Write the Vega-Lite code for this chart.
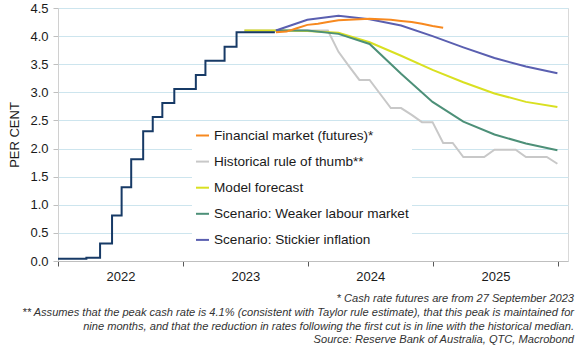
{
  "$schema": "https://vega.github.io/schema/vega-lite/v6.json",
  "width": 510,
  "height": 253,
  "autosize": {"type": "none"},
  "padding": {"left": 58, "top": 8, "right": 17, "bottom": 92},
  "background": "white",
  "config": {
    "font": "Liberation Sans",
    "view": {"stroke": "#D9D9D9", "strokeWidth": 1}
  },
  "title": {
    "text": [
      "* Cash rate futures are from 27 September 2023",
      "** Assumes that the peak cash rate is 4.1% (consistent with Taylor rule estimate), that this peak is maintained for",
      "nine months, and that the reduction in rates following the first cut is in line with the historical median.",
      "Source: Reserve Bank of Australia, QTC, Macrobond"
    ],
    "orient": "bottom",
    "anchor": "end",
    "align": "right",
    "frame": "group",
    "dx": 6,
    "offset": 10,
    "fontStyle": "italic",
    "fontWeight": "normal",
    "fontSize": 11.1,
    "lineHeight": 13.8,
    "color": "#333333",
    "font": "Liberation Sans"
  },
  "datasets": {
    "actual": [
      {"date": "2022-01-01", "value": 0.04},
      {"date": "2022-03-25", "value": 0.06},
      {"date": "2022-05-04", "value": 0.31},
      {"date": "2022-06-08", "value": 0.81},
      {"date": "2022-07-06", "value": 1.31},
      {"date": "2022-08-03", "value": 1.81},
      {"date": "2022-09-07", "value": 2.31},
      {"date": "2022-10-05", "value": 2.56},
      {"date": "2022-11-02", "value": 2.81},
      {"date": "2022-12-07", "value": 3.06},
      {"date": "2023-02-08", "value": 3.31},
      {"date": "2023-03-08", "value": 3.56},
      {"date": "2023-05-03", "value": 3.81},
      {"date": "2023-06-07", "value": 4.07},
      {"date": "2023-09-27", "value": 4.07}
    ],
    "forecast": [
      {"series": "Historical rule of thumb**", "date": "2023-06-30", "value": 4.1},
      {"series": "Historical rule of thumb**", "date": "2023-07-31", "value": 4.1},
      {"series": "Historical rule of thumb**", "date": "2023-08-31", "value": 4.1},
      {"series": "Historical rule of thumb**", "date": "2023-09-30", "value": 4.1},
      {"series": "Historical rule of thumb**", "date": "2023-10-31", "value": 4.1},
      {"series": "Historical rule of thumb**", "date": "2023-11-30", "value": 4.1},
      {"series": "Historical rule of thumb**", "date": "2023-12-31", "value": 4.1},
      {"series": "Historical rule of thumb**", "date": "2024-01-31", "value": 4.1},
      {"series": "Historical rule of thumb**", "date": "2024-02-29", "value": 4.1},
      {"series": "Historical rule of thumb**", "date": "2024-03-31", "value": 3.72},
      {"series": "Historical rule of thumb**", "date": "2024-04-30", "value": 3.47},
      {"series": "Historical rule of thumb**", "date": "2024-05-31", "value": 3.22},
      {"series": "Historical rule of thumb**", "date": "2024-06-30", "value": 3.22},
      {"series": "Historical rule of thumb**", "date": "2024-07-31", "value": 2.97},
      {"series": "Historical rule of thumb**", "date": "2024-08-31", "value": 2.72},
      {"series": "Historical rule of thumb**", "date": "2024-09-30", "value": 2.72},
      {"series": "Historical rule of thumb**", "date": "2024-10-31", "value": 2.6},
      {"series": "Historical rule of thumb**", "date": "2024-11-30", "value": 2.47},
      {"series": "Historical rule of thumb**", "date": "2024-12-31", "value": 2.47},
      {"series": "Historical rule of thumb**", "date": "2025-01-31", "value": 2.1},
      {"series": "Historical rule of thumb**", "date": "2025-02-28", "value": 2.1},
      {"series": "Historical rule of thumb**", "date": "2025-03-31", "value": 1.85},
      {"series": "Historical rule of thumb**", "date": "2025-04-30", "value": 1.85},
      {"series": "Historical rule of thumb**", "date": "2025-05-31", "value": 1.85},
      {"series": "Historical rule of thumb**", "date": "2025-06-30", "value": 1.98},
      {"series": "Historical rule of thumb**", "date": "2025-07-31", "value": 1.98},
      {"series": "Historical rule of thumb**", "date": "2025-08-31", "value": 1.98},
      {"series": "Historical rule of thumb**", "date": "2025-09-30", "value": 1.85},
      {"series": "Historical rule of thumb**", "date": "2025-10-31", "value": 1.85},
      {"series": "Historical rule of thumb**", "date": "2025-11-30", "value": 1.85},
      {"series": "Historical rule of thumb**", "date": "2025-12-31", "value": 1.73},

      {"series": "Model forecast", "date": "2023-06-30", "value": 4.1},
      {"series": "Model forecast", "date": "2023-09-30", "value": 4.1},
      {"series": "Model forecast", "date": "2023-12-31", "value": 4.09},
      {"series": "Model forecast", "date": "2024-03-31", "value": 4.06},
      {"series": "Model forecast", "date": "2024-06-30", "value": 3.89},
      {"series": "Model forecast", "date": "2024-09-30", "value": 3.65},
      {"series": "Model forecast", "date": "2024-12-31", "value": 3.4},
      {"series": "Model forecast", "date": "2025-03-31", "value": 3.18},
      {"series": "Model forecast", "date": "2025-06-30", "value": 2.98},
      {"series": "Model forecast", "date": "2025-09-30", "value": 2.83},
      {"series": "Model forecast", "date": "2025-12-31", "value": 2.74},

      {"series": "Scenario: Weaker labour market", "date": "2023-09-30", "value": 4.1},
      {"series": "Scenario: Weaker labour market", "date": "2023-12-31", "value": 4.1},
      {"series": "Scenario: Weaker labour market", "date": "2024-03-31", "value": 4.04},
      {"series": "Scenario: Weaker labour market", "date": "2024-06-30", "value": 3.86},
      {"series": "Scenario: Weaker labour market", "date": "2024-09-30", "value": 3.33},
      {"series": "Scenario: Weaker labour market", "date": "2024-12-31", "value": 2.83},
      {"series": "Scenario: Weaker labour market", "date": "2025-03-31", "value": 2.48},
      {"series": "Scenario: Weaker labour market", "date": "2025-06-30", "value": 2.25},
      {"series": "Scenario: Weaker labour market", "date": "2025-09-30", "value": 2.09},
      {"series": "Scenario: Weaker labour market", "date": "2025-12-31", "value": 1.97},

      {"series": "Scenario: Stickier inflation", "date": "2023-09-30", "value": 4.1},
      {"series": "Scenario: Stickier inflation", "date": "2023-12-31", "value": 4.29},
      {"series": "Scenario: Stickier inflation", "date": "2024-03-31", "value": 4.36},
      {"series": "Scenario: Stickier inflation", "date": "2024-06-30", "value": 4.3},
      {"series": "Scenario: Stickier inflation", "date": "2024-09-30", "value": 4.19},
      {"series": "Scenario: Stickier inflation", "date": "2024-12-31", "value": 4.0},
      {"series": "Scenario: Stickier inflation", "date": "2025-03-31", "value": 3.8},
      {"series": "Scenario: Stickier inflation", "date": "2025-06-30", "value": 3.61},
      {"series": "Scenario: Stickier inflation", "date": "2025-09-30", "value": 3.46},
      {"series": "Scenario: Stickier inflation", "date": "2025-12-31", "value": 3.34},

      {"series": "Financial market (futures)*", "date": "2023-09-30", "value": 4.07},
      {"series": "Financial market (futures)*", "date": "2023-10-31", "value": 4.08},
      {"series": "Financial market (futures)*", "date": "2023-11-30", "value": 4.14},
      {"series": "Financial market (futures)*", "date": "2023-12-31", "value": 4.2},
      {"series": "Financial market (futures)*", "date": "2024-01-31", "value": 4.22},
      {"series": "Financial market (futures)*", "date": "2024-02-29", "value": 4.25},
      {"series": "Financial market (futures)*", "date": "2024-03-31", "value": 4.28},
      {"series": "Financial market (futures)*", "date": "2024-04-30", "value": 4.29},
      {"series": "Financial market (futures)*", "date": "2024-05-31", "value": 4.3},
      {"series": "Financial market (futures)*", "date": "2024-06-30", "value": 4.31},
      {"series": "Financial market (futures)*", "date": "2024-07-31", "value": 4.3},
      {"series": "Financial market (futures)*", "date": "2024-08-31", "value": 4.29},
      {"series": "Financial market (futures)*", "date": "2024-09-30", "value": 4.27},
      {"series": "Financial market (futures)*", "date": "2024-10-31", "value": 4.25},
      {"series": "Financial market (futures)*", "date": "2024-11-30", "value": 4.22},
      {"series": "Financial market (futures)*", "date": "2024-12-31", "value": 4.18},
      {"series": "Financial market (futures)*", "date": "2025-01-31", "value": 4.15}
    ]
  },
  "encoding": {
    "x": {
      "field": "date",
      "type": "temporal",
      "scale": {
        "domain": [
          {"year": 2022, "month": 1, "date": 1},
          {"year": 2026, "month": 1, "date": 31}
        ]
      },
      "axis": {
        "title": null,
        "grid": false,
        "values": [
          {"year": 2022, "month": 1, "date": 1},
          {"year": 2023, "month": 1, "date": 1},
          {"year": 2024, "month": 1, "date": 1},
          {"year": 2025, "month": 1, "date": 1},
          {"year": 2026, "month": 1, "date": 1}
        ],
        "labelExpr": "year(datum.value) < 2026 ? timeFormat(datum.value, '%Y') : ''",
        "labelOffset": 62.5,
        "labelOverlap": false,
        "labelFlush": false,
        "labelBound": false,
        "labelFontSize": 13,
        "labelColor": "#1a1a1a",
        "labelPadding": 4,
        "tickSize": 5,
        "tickColor": "#595959",
        "domainColor": "#BFBFBF"
      }
    },
    "y": {
      "field": "value",
      "type": "quantitative",
      "scale": {"domain": [0, 4.5], "nice": false},
      "axis": {
        "title": "PER CENT",
        "titleFontSize": 13,
        "titleFontWeight": "normal",
        "titleColor": "#1a1a1a",
        "titlePadding": 8,
        "values": [0, 0.5, 1, 1.5, 2, 2.5, 3, 3.5, 4, 4.5],
        "format": ".1f",
        "labelFontSize": 13,
        "labelColor": "#1a1a1a",
        "labelPadding": 5,
        "tickSize": 5,
        "tickColor": "#BFBFBF",
        "domainColor": "#D0D0D0",
        "gridColor": "#CDE5EE",
        "gridWidth": 1
      }
    }
  },
  "layer": [
    {
      "data": {"name": "forecast"},
      "mark": {"type": "line", "strokeWidth": 2},
      "encoding": {
        "color": {
          "field": "series",
          "type": "nominal",
          "scale": {
            "domain": [
              "Financial market (futures)*",
              "Historical rule of thumb**",
              "Model forecast",
              "Scenario: Weaker labour market",
              "Scenario: Stickier inflation"
            ],
            "range": ["#F7891F", "#C8C8C8", "#D9E021", "#4D9078", "#5A5FB0"]
          },
          "legend": {
            "orient": "none",
            "legendX": 134,
            "legendY": 117,
            "title": null,
            "fillColor": "white",
            "padding": 3,
            "symbolType": "stroke",
            "symbolSize": 169,
            "symbolStrokeWidth": 2,
            "labelFontSize": 13.6,
            "labelColor": "#1a1a1a",
            "labelOffset": 4,
            "rowPadding": 11.1,
            "labelLimit": 300
          }
        }
      }
    },
    {
      "data": {"name": "actual"},
      "mark": {"type": "line", "strokeWidth": 2, "color": "#173A66", "interpolate": "step-after"},
      "encoding": {}
    }
  ]
}
